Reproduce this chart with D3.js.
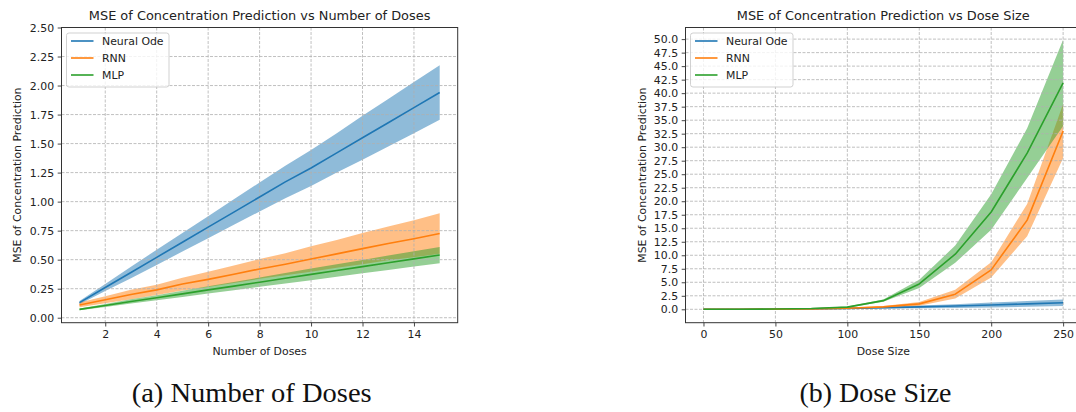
<!DOCTYPE html>
<html>
<head>
<meta charset="utf-8">
<script src="https://cdn.jsdelivr.net/npm/d3@7"></script>
<style>
  body { margin: 0; background: #fff; }
  svg { display: block; }
</style>
</head>
<body>
<svg id="fig" width="1076" height="412"></svg>
<script>
// ---- shared series info ----
const seriesNames = ["Neural Ode", "RNN", "MLP"];
const seriesColors = ["#1f77b4", "#ff7f0e", "#2ca02c"];

// ---- panel (a): MSE vs number of doses ----
const numDoses = [1, 2, 3, 4, 5, 6, 7, 8, 9, 10, 11, 12, 13, 14, 15];
const odeMeanA = [0.13, 0.26, 0.39, 0.52, 0.65, 0.78, 0.91, 1.04, 1.17, 1.29, 1.42, 1.55, 1.68, 1.81, 1.94];
const odeStdA  = [0.015, 0.03, 0.05, 0.065, 0.08, 0.095, 0.11, 0.125, 0.14, 0.155, 0.17, 0.19, 0.205, 0.22, 0.235];
const rnnMeanA = [0.11, 0.155, 0.2, 0.24, 0.29, 0.33, 0.375, 0.42, 0.46, 0.505, 0.55, 0.595, 0.64, 0.68, 0.725];
const rnnStdA  = [0.02, 0.03, 0.04, 0.045, 0.055, 0.065, 0.075, 0.085, 0.095, 0.11, 0.12, 0.135, 0.145, 0.16, 0.175];
const mlpMeanA = [0.072, 0.105, 0.14, 0.172, 0.205, 0.24, 0.272, 0.306, 0.34, 0.373, 0.407, 0.44, 0.473, 0.507, 0.54];
const mlpStdA  = [0.008, 0.013, 0.018, 0.022, 0.027, 0.031, 0.036, 0.04, 0.045, 0.05, 0.054, 0.058, 0.062, 0.066, 0.07];
const xTicksA = [2, 4, 6, 8, 10, 12, 14];
const yTicksA = [0, 0.25, 0.5, 0.75, 1.0, 1.25, 1.5, 1.75, 2.0, 2.25, 2.5];

// ---- panel (b): MSE vs dose size ----
const doseSizes = [0, 25, 50, 75, 100, 125, 150, 175, 200, 225, 250];
const odeMeanB = [0.0, 0.01, 0.03, 0.08, 0.17, 0.3, 0.45, 0.6, 0.8, 1.0, 1.22];
const odeStdB  = [0.0, 0.01, 0.02, 0.04, 0.08, 0.15, 0.25, 0.35, 0.45, 0.52, 0.6];
const rnnMeanB = [0.0, 0.01, 0.03, 0.08, 0.2, 0.45, 1.0, 2.8, 7.3, 16.5, 33.0];
const rnnStdB  = [0.0, 0.005, 0.01, 0.03, 0.08, 0.15, 0.35, 0.8, 1.4, 3.0, 5.0];
const mlpMeanB = [0.0, 0.02, 0.05, 0.15, 0.4, 1.6, 4.7, 10.2, 18.0, 28.9, 41.9];
const mlpStdB  = [0.0, 0.01, 0.02, 0.05, 0.1, 0.2, 0.75, 1.6, 3.3, 4.6, 8.0];
const xTicksB = [0, 50, 100, 150, 200, 250];
const yTicksB = [0, 2.5, 5, 7.5, 10, 12.5, 15, 17.5, 20, 22.5, 25, 27.5, 30, 32.5, 35, 37.5, 40, 42.5, 45, 47.5, 50];

const SANS = "'DejaVu Sans', sans-serif";
const svg = d3.select("#fig");

function drawPanel(cfg) {
  const g = svg.append("g");
  const x = d3.scaleLinear().domain(cfg.xDomain).range([cfg.left, cfg.right]);
  const y = d3.scaleLinear().domain(cfg.yDomain).range([cfg.bottom, cfg.top]);

  const clipId = "clip-" + cfg.id;
  svg.append("clipPath").attr("id", clipId)
    .append("rect").attr("x", cfg.left).attr("y", cfg.top)
    .attr("width", cfg.right - cfg.left).attr("height", cfg.bottom - cfg.top);

  const plot = g.append("g").attr("clip-path", `url(#${clipId})`);

  // shaded ±std bands
  cfg.series.forEach((s, i) => {
    const rows = cfg.xs.map((xv, k) => ({ x: xv, lo: s.mean[k] - s.std[k], hi: s.mean[k] + s.std[k] }));
    plot.append("path")
      .datum(rows)
      .attr("fill", seriesColors[i])
      .attr("fill-opacity", 0.5)
      .attr("d", d3.area().x(d => x(d.x)).y0(d => y(d.lo)).y1(d => y(d.hi)));
  });

  // dashed grid
  const grid = plot.append("g").attr("stroke", "#b0b0b0").attr("stroke-width", 0.8)
    .attr("stroke-dasharray", "3,1.5");
  cfg.xTicks.forEach(t => grid.append("line")
    .attr("x1", x(t)).attr("x2", x(t)).attr("y1", cfg.top).attr("y2", cfg.bottom));
  cfg.yTicks.forEach(t => grid.append("line")
    .attr("x1", cfg.left).attr("x2", cfg.right).attr("y1", y(t)).attr("y2", y(t)));

  // mean lines
  cfg.series.forEach((s, i) => {
    const rows = cfg.xs.map((xv, k) => ({ x: xv, v: s.mean[k] }));
    plot.append("path")
      .datum(rows)
      .attr("fill", "none")
      .attr("stroke", seriesColors[i])
      .attr("stroke-width", 1.6)
      .attr("stroke-linejoin", "round")
      .attr("d", d3.line().x(d => x(d.x)).y(d => y(d.v)));
  });

  // axes
  const xAxis = g.append("g").attr("transform", `translate(0,${cfg.bottom})`)
    .call(d3.axisBottom(x).tickValues(cfg.xTicks).tickFormat(d3.format("d")).tickSize(3.8).tickPadding(3.6));
  const yAxis = g.append("g").attr("transform", `translate(${cfg.left},0)`)
    .call(d3.axisLeft(y).tickValues(cfg.yTicks).tickFormat(d3.format(cfg.yFormat)).tickSize(3.8).tickPadding(3.6));
  [xAxis, yAxis].forEach(a => {
    a.select(".domain").remove();
    a.selectAll("line").attr("stroke", "#333").attr("stroke-width", 0.9);
    a.selectAll("text").attr("fill", "#222").style("font-family", SANS).style("font-size", "10.9px");
  });

  // frame
  g.append("rect")
    .attr("x", cfg.left).attr("y", cfg.top)
    .attr("width", cfg.right - cfg.left).attr("height", cfg.bottom - cfg.top)
    .attr("fill", "none").attr("stroke", "#333").attr("stroke-width", 1);

  const cx = (cfg.left + cfg.right) / 2;
  const cy = (cfg.top + cfg.bottom) / 2;

  // title
  g.append("text").attr("x", cx).attr("y", 20)
    .attr("text-anchor", "middle").attr("fill", "#222")
    .style("font-family", SANS).style("font-size", "12.9px")
    .text(cfg.title);

  // axis labels
  g.append("text").attr("x", cx).attr("y", 355)
    .attr("text-anchor", "middle").attr("fill", "#222")
    .style("font-family", SANS).style("font-size", "10.9px")
    .text(cfg.xLabel);
  g.append("text")
    .attr("transform", `translate(${cfg.yLabelX},${cy}) rotate(-90)`)
    .attr("text-anchor", "middle").attr("fill", "#222")
    .style("font-family", SANS).style("font-size", "10.9px")
    .text("MSE of Concentration Prediction");

  // legend
  const lg = g.append("g").attr("transform", `translate(${cfg.left + 5},33)`);
  lg.append("rect").attr("width", 102.5).attr("height", 54).attr("rx", 2.5)
    .attr("fill", "#fff").attr("fill-opacity", 0.8)
    .attr("stroke", "#cccccc").attr("stroke-width", 0.9);
  seriesNames.forEach((name, i) => {
    const ry = 8 + i * 17;
    lg.append("line").attr("x1", 4.5).attr("x2", 27).attr("y1", ry).attr("y2", ry)
      .attr("stroke", seriesColors[i]).attr("stroke-width", 1.6);
    lg.append("text").attr("x", 35.5).attr("y", ry + 4)
      .attr("fill", "#222")
      .style("font-family", SANS).style("font-size", "10.9px")
      .text(name);
  });

  // caption under the panel
  svg.append("text").attr("x", cfg.captionX).attr("y", 402)
    .attr("text-anchor", "middle").attr("fill", "#111")
    .attr("textLength", cfg.captionWidth).attr("lengthAdjust", "spacingAndGlyphs")
    .style("font-family", "'Liberation Serif', 'Times New Roman', serif").style("font-size", "28px")
    .text(cfg.caption);
}

drawPanel({
  id: "a",
  left: 61.5, right: 457.7, top: 27.5, bottom: 322.7,
  xDomain: [0.3, 15.7], yDomain: [-0.043, 2.5],
  xs: numDoses,
  series: [
    { mean: odeMeanA, std: odeStdA },
    { mean: rnnMeanA, std: rnnStdA },
    { mean: mlpMeanA, std: mlpStdA }
  ],
  xTicks: xTicksA, yTicks: yTicksA, yFormat: ".2f",
  title: "MSE of Concentration Prediction vs Number of Doses",
  xLabel: "Number of Doses",
  yLabelX: 21,
  caption: "(a) Number of Doses", captionX: 251.7, captionWidth: 240
});

drawPanel({
  id: "b",
  left: 685.5, right: 1081.1, top: 27.5, bottom: 322.7,
  xDomain: [-12.5, 262.5], yDomain: [-2.48, 52.15],
  xs: doseSizes,
  series: [
    { mean: odeMeanB, std: odeStdB },
    { mean: rnnMeanB, std: rnnStdB },
    { mean: mlpMeanB, std: mlpStdB }
  ],
  xTicks: xTicksB, yTicks: yTicksB, yFormat: ".1f",
  title: "MSE of Concentration Prediction vs Dose Size",
  xLabel: "Dose Size",
  yLabelX: 645.5,
  caption: "(b) Dose Size", captionX: 875.5, captionWidth: 152
});
</script>
</body>
</html>
